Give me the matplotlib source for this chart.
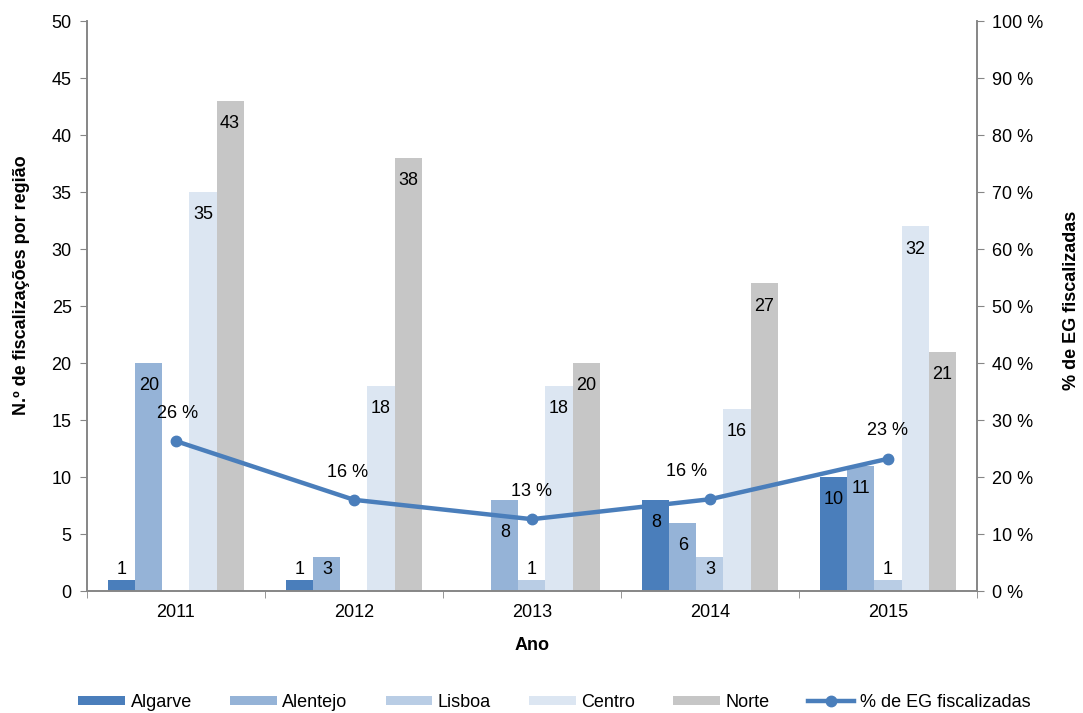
import matplotlib.pyplot as plt
import numpy as np

plt.rcParams['font.family'] = ['Liberation Sans', 'DejaVu Sans']

years = ['2011', '2012', '2013', '2014', '2015']
regions = ['Algarve', 'Alentejo', 'Lisboa', 'Centro', 'Norte']
algarve = [1, 1, 0, 8, 10]
alentejo = [20, 3, 8, 6, 11]
lisboa = [0, 0, 1, 3, 1]
centro = [35, 18, 18, 16, 32]
norte = [43, 38, 20, 27, 21]
pct_eg = [26.3, 16.0, 12.6, 16.1, 23.2]

series = [algarve, alentejo, lisboa, centro, norte]
colors = ['#4a7ebb', '#95b3d7', '#b9cde5', '#dce6f2', '#c6c6c6']
line_color = '#4a7ebb'
axis_grey = '#868686'
fs = 13

fig = plt.figure(figsize=(10.83, 7.13), dpi=100)
ax = fig.add_axes([0.0803, 0.1711, 0.8218, 0.7994])
ax2 = ax.twinx()

x = np.arange(len(years))
w = 0.152
# label pushed further down where it would sit on the line
label_drop = {(1, 2): 2.9}
for i, (name, vals) in enumerate(zip(regions, series)):
    pos = x + (i - 2) * w
    ax.bar(pos, vals, width=w, color=colors[i], label=name, zorder=2)
    for j, (px, v) in enumerate(zip(pos, vals)):
        if v == 0:
            continue
        drop = label_drop.get((i, j), 2.0)
        ax.text(px, max(v - drop, 1.9), str(v), ha='center', va='center',
                fontsize=fs, color='black', zorder=3)

ax.set_xlim(-0.5, 4.5)
ax.set_ylim(0, 50)
ax.set_yticks(range(0, 51, 5))
ax.set_xticks(x)
ax.set_xticklabels(years)
ax.set_xticks(np.arange(-0.5, 4.6, 1), minor=True)
ax.tick_params(axis='x', which='major', length=0, pad=9, labelsize=fs)
ax.tick_params(axis='x', which='minor', length=5, color=axis_grey, direction='out')
ax.tick_params(axis='y', length=5, color=axis_grey, direction='out', pad=6, labelsize=fs)

ax2.plot(x, pct_eg, color=line_color, lw=3.2, marker='o', ms=7.5,
         label='% de EG fiscalizadas', zorder=4)
label_dx = [2, -6, 0, -23, 0]
for xi, v, dx in zip(x, pct_eg, label_dx):
    ax2.annotate(f'{v:.0f} %', (xi, v), xytext=(dx * 0.72, 20), textcoords='offset points',
                 ha='center', va='center', fontsize=fs)
ax2.set_ylim(0, 100)
ax2.set_yticks(range(0, 101, 10))
ax2.set_yticklabels([f'{t} %' for t in range(0, 101, 10)])
ax2.tick_params(axis='y', length=5, color=axis_grey, direction='out', pad=6, labelsize=fs)

for a in (ax, ax2):
    a.spines['top'].set_visible(False)
    for s in ('left', 'right', 'bottom'):
        a.spines[s].set_color(axis_grey)
        a.spines[s].set_linewidth(1.2)

ax.set_xlabel('Ano', fontsize=fs, fontweight='bold', labelpad=12)
ax.set_ylabel('N.º de fiscalizações por região', fontsize=fs, fontweight='bold')
ax.yaxis.set_label_coords(-0.064, 0.537)
ax2.set_ylabel('% de EG fiscalizadas', fontsize=fs, fontweight='bold')
ax2.yaxis.set_label_coords(1.097, 0.51)

h1, l1 = ax.get_legend_handles_labels()
h2, l2 = ax2.get_legend_handles_labels()
fig.legend(h1 + h2, l1 + l2, loc='center', bbox_to_anchor=(0.512, 0.015), ncol=6,
           frameon=False, fontsize=fs, handlelength=2.6, handleheight=0.45,
           handletextpad=0.3, columnspacing=2.1)

fig.savefig('out.png', dpi=100)
